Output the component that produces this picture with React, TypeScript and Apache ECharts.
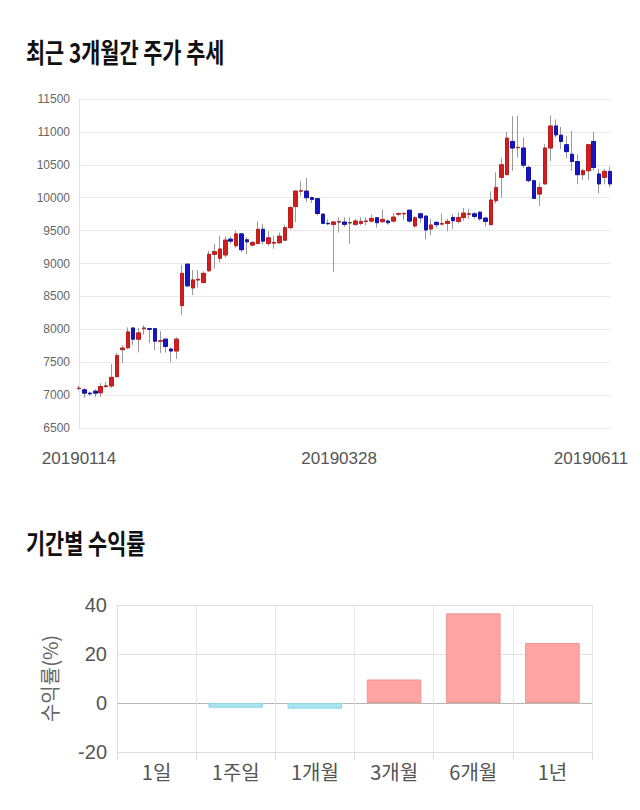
import React, { useEffect, useRef } from "react";
import * as echarts from "echarts";

const dates: string[] = [
  "20190114","20190115","20190116","20190117","20190118","20190121","20190122","20190123","20190124","20190125",
  "20190128","20190129","20190130","20190131",
  "20190207","20190208","20190211","20190212","20190213","20190214","20190215","20190218","20190219","20190220",
  "20190221","20190222","20190225","20190226","20190227","20190228",
  "20190304","20190305","20190306","20190307","20190308","20190311","20190312","20190313","20190314","20190315",
  "20190318","20190319","20190320","20190321","20190322","20190325","20190326","20190327","20190328","20190329",
  "20190401","20190402","20190403","20190404","20190405","20190408","20190409","20190410","20190411","20190412",
  "20190415","20190416","20190417","20190418","20190419","20190422","20190423","20190424","20190425","20190426",
  "20190429","20190430",
  "20190502","20190503","20190507","20190508","20190509","20190510","20190513","20190514","20190515","20190516",
  "20190517","20190520","20190521","20190522","20190523","20190524","20190527","20190528","20190529","20190530",
  "20190531",
  "20190603","20190604","20190605","20190607","20190610","20190611",
];

const opens: number[] = [
  7100,7080,7030,7060,7035,7130,7140,7280,7690,7720,
  8020,7850,8010,8010,8010,7820,7850,7700,7670,8360,
  8990,8630,8750,8710,8890,9140,9080,9130,9370,9270,
  9450,9360,9280,9305,9520,9305,9310,9315,9355,9545,
  9865,10100,10100,10000,9985,9750,9610,9595,9630,9630,
  9620,9595,9610,9640,9645,9695,9635,9645,9645,9750,
  9755,9810,9570,9755,9720,9525,9625,9600,9610,9700,
  9640,9700,9750,9755,9780,9690,9590,9955,10310,10350,
  10855,10760,10755,10460,10258,10055,10210,10755,11090,10950,
  10805,10660,10550,10350,10410,10855,10360,10310,10400,
];
const closes: number[] = [
  7105,7030,7020,7030,7130,7140,7270,7600,7715,7960,
  7850,7945,8020,8000,7820,7825,7740,7670,7850,8850,
  8660,8750,8760,8850,9140,9180,9220,9355,9340,9450,
  9210,9330,9320,9520,9340,9390,9320,9415,9545,9850,
  10100,10105,10000,9975,9760,9610,9605,9630,9635,9595,
  9620,9645,9640,9645,9685,9620,9670,9620,9705,9760,
  9760,9645,9695,9695,9510,9585,9590,9605,9640,9650,
  9700,9765,9755,9715,9680,9640,9965,10155,10500,10905,
  10755,10765,10495,10260,9990,10155,10755,11090,10955,10855,
  10700,10550,10350,10410,10805,10460,10210,10400,10210,
];
const lows: number[] = [
  7070,6960,6990,6970,6975,7110,7110,7270,7490,7700,
  7760,7650,7920,7790,7680,7640,7650,7500,7550,8220,
  8640,8520,8630,8700,8870,8920,9020,9090,9300,9240,
  9170,9140,9260,9290,9290,9265,9225,9300,9340,9520,
  9630,10030,9935,9920,9730,9595,9580,8870,9470,9560,
  9300,9570,9580,9580,9620,9545,9620,9590,9620,9720,
  9660,9620,9545,9620,9365,9430,9540,9575,9490,9525,
  9610,9650,9680,9680,9650,9560,9590,9915,10005,10350,
  10410,10610,10450,10230,9985,9870,10205,10560,10915,10740,
  10600,10410,10205,10270,10270,10410,10065,10205,10160,
];
const highs: number[] = [
  7140,7110,7050,7090,7180,7200,7470,7640,7760,8030,
  8030,8020,8060,8020,8020,7970,7860,7720,7880,8980,
  9000,8900,8900,8880,9190,9300,9420,9410,9410,9500,
  9460,9400,9340,9640,9600,9490,9420,9470,9590,9870,
  10110,10250,10300,10020,9990,9760,9670,9650,9700,9700,
  9700,9680,9700,9700,9745,9700,9820,9670,9770,9775,
  9780,9820,9720,9775,9730,9680,9650,9760,9680,9750,
  9780,9845,9830,9780,9790,9710,10095,10385,10600,11000,
  11240,11250,10915,10485,10270,10230,10815,11250,11190,11075,
  10940,11015,10660,10435,10815,11000,10435,10435,10470,
];

const periods: string[] = ["1일", "1주일", "1개월", "3개월", "6개월", "1년"];
const returns: number[] = [0, -1.9, -2.3, 9.6, 36.6, 24.5];

const priceTicks = { min: 6500, max: 11500, step: 500 };
const returnTicks = { min: -20, max: 40, step: 20 };

const shownDateIdx = [0, 48, 98];

const LATIN = '"Liberation Sans", Arial, "Noto Sans CJK KR", sans-serif';
const KR = '"Noto Sans CJK KR", "Liberation Sans", sans-serif';

export default function App() {
  const ref = useRef<HTMLDivElement>(null);
  useEffect(() => {
    if (!ref.current) return;
    const chart = echarts.init(ref.current, undefined, { renderer: "svg" });

    const wickData = dates.map((_, i) => [opens[i], closes[i], lows[i], highs[i]]);
    const bodyData = dates.map((_, i) => [
      opens[i],
      closes[i],
      Math.min(opens[i], closes[i]),
      Math.max(opens[i], closes[i]),
    ]);
    const lastIdx = dates.length - 1;

    const barData = returns.map((v) => ({
      value: v,
      itemStyle:
        v > 0
          ? { color: "#ffa3a3", borderColor: "#eb9898", borderWidth: 1 }
          : v < 0
          ? { color: "#a9e5f1", borderColor: "#90d6e6", borderWidth: 1 }
          : { color: "rgba(0,0,0,0)", borderWidth: 0 },
    }));

    const option: any = {
      animation: false,
      backgroundColor: "#ffffff",
      graphic: [
        {
          type: "text",
          x: 26,
          y: 51,
          scaleX: 0.77,
          style: {
            text: "최근 3개월간 주가 추세",
            fontSize: 27,
            fontWeight: "bold",
            fontFamily: KR,
            fill: "#111111",
            align: "left",
            verticalAlign: "middle",
            textAlign: "left",
            textVerticalAlign: "middle",
          },
        },
        {
          type: "text",
          x: 26,
          y: 542,
          scaleX: 0.77,
          style: {
            text: "기간별 수익률",
            fontSize: 27,
            fontWeight: "bold",
            fontFamily: KR,
            fill: "#111111",
            align: "left",
            verticalAlign: "middle",
            textAlign: "left",
            textVerticalAlign: "middle",
          },
        },
      ],
      grid: [
        { left: 79, right: 30, top: 99, bottom: 382 },
        { left: 117, right: 48, top: 605, bottom: 58 },
      ],
      xAxis: [
        {
          type: "category",
          gridIndex: 0,
          data: dates,
          boundaryGap: false,
          axisLine: { show: false },
          axisTick: { show: false },
          splitLine: { show: false },
          axisLabel: {
            interval: (idx: number) => shownDateIdx.includes(idx),
            fontSize: 17,
            fontFamily: LATIN,
            color: "#555555",
            margin: 22,
            formatter: (v: string, i: number) => (i === lastIdx ? `{last|${v}}` : v),
            rich: {
              last: {
                fontSize: 17,
                fontFamily: LATIN,
                color: "#555555",
                padding: [0, 38, 0, 0],
              },
            },
          },
        },
        {
          type: "category",
          gridIndex: 1,
          data: periods,
          boundaryGap: true,
          axisLine: { show: true, onZero: false, lineStyle: { color: "#dddddd" } },
          axisTick: { show: true, length: 8, lineStyle: { color: "#dddddd" } },
          splitLine: { show: true, lineStyle: { color: "#e6e6e6" } },
          axisLabel: {
            fontSize: 20,
            fontFamily: KR,
            color: "#555555",
            margin: 9,
          },
        },
      ],
      yAxis: [
        {
          type: "value",
          gridIndex: 0,
          min: priceTicks.min,
          max: priceTicks.max,
          interval: priceTicks.step,
          axisLine: { show: true, lineStyle: { color: "#e3e3e3" } },
          axisTick: { show: false },
          splitLine: { show: true, lineStyle: { color: "#e8e8e8" } },
          axisLabel: {
            fontSize: 12,
            fontFamily: LATIN,
            color: "#666666",
            margin: 9,
            formatter: (v: number) => String(v),
          },
        },
        {
          type: "value",
          gridIndex: 1,
          min: returnTicks.min,
          max: returnTicks.max,
          interval: returnTicks.step,
          name: "수익률(%)",
          nameLocation: "middle",
          nameGap: 58,
          nameRotate: 90,
          nameTextStyle: { fontSize: 20, fontFamily: KR, color: "#666666" },
          axisLine: { show: true, lineStyle: { color: "#dddddd" } },
          axisTick: { show: false },
          splitLine: {
            show: true,
            lineStyle: { color: ["#e0e0e0", "#b5b5b5", "#e0e0e0", "#e0e0e0"] },
          },
          axisLabel: {
            fontSize: 20,
            fontFamily: LATIN,
            color: "#555555",
            margin: 10,
            formatter: (v: number) => String(v),
          },
        },
      ],
      series: [
        {
          type: "candlestick",
          name: "wick",
          xAxisIndex: 0,
          yAxisIndex: 0,
          data: wickData,
          barWidth: 4,
          itemStyle: {
            color: "#999999",
            color0: "#999999",
            borderColor: "#999999",
            borderColor0: "#999999",
            borderColorDoji: "#999999",
            borderWidth: 1,
          },
        },
        {
          type: "candlestick",
          name: "body",
          xAxisIndex: 0,
          yAxisIndex: 0,
          data: bodyData,
          barWidth: 4,
          itemStyle: {
            color: "#d11f1f",
            color0: "#1616c4",
            borderColor: "#c01a1a",
            borderColor0: "#1212b0",
            borderColorDoji: "#333333",
            borderWidth: 1,
          },
        },
        {
          type: "bar",
          xAxisIndex: 1,
          yAxisIndex: 1,
          data: barData,
          barWidth: "69%",
        },
      ],
    };
    chart.setOption(option);
    return () => chart.dispose();
  }, []);
  return (
    <div
      ref={ref}
      style={{ position: "absolute", left: 0, top: 0, width: 640, height: 810, background: "#fff" }}
    />
  );
}
